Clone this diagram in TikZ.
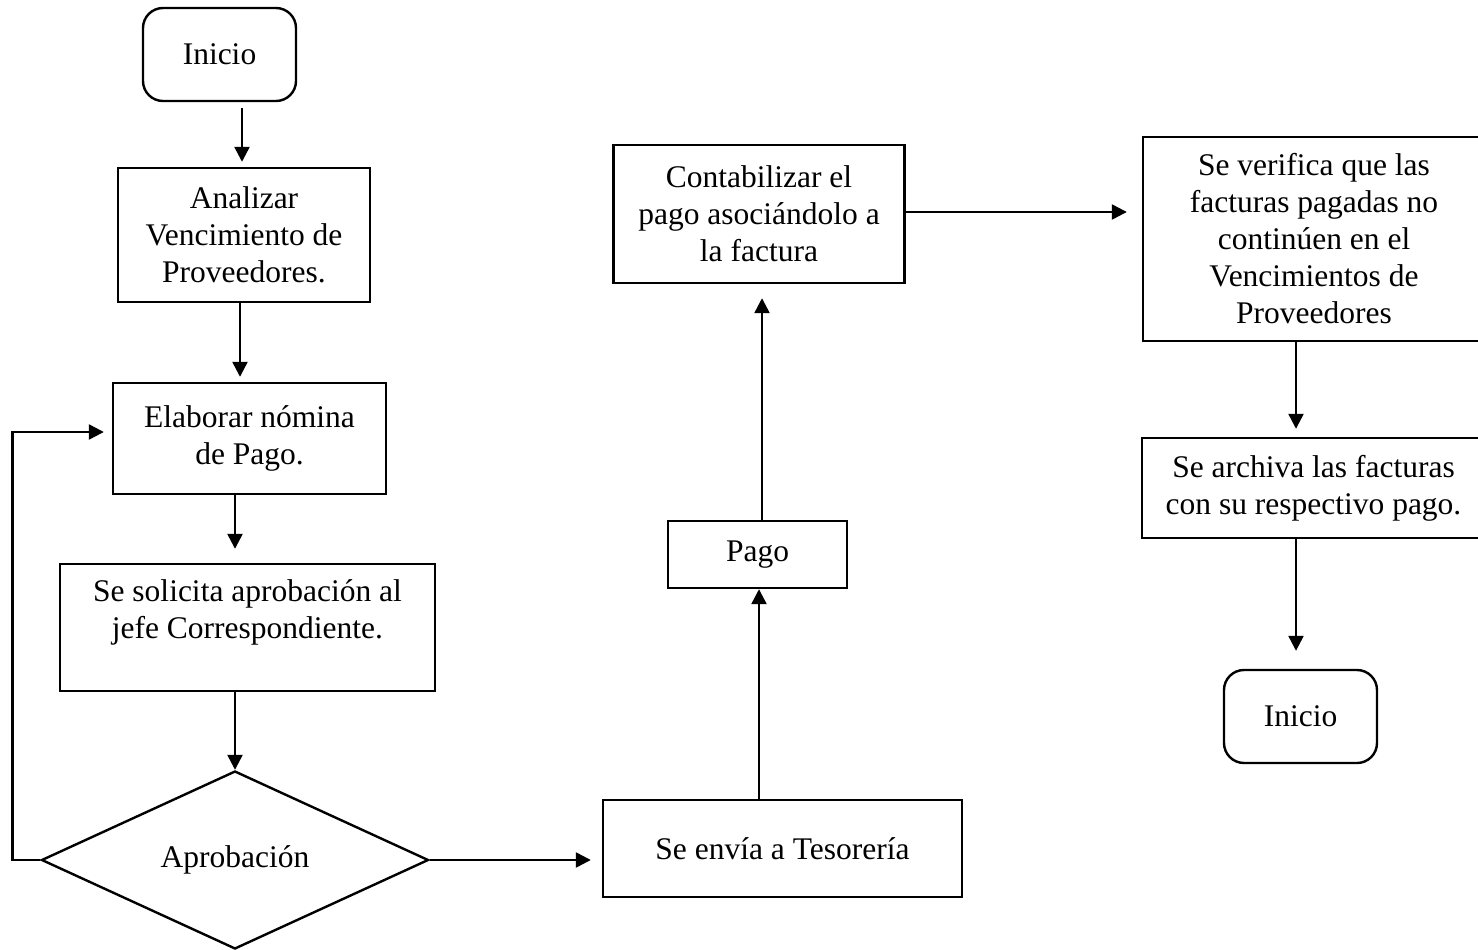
\documentclass[tikz,border=0pt]{standalone}
\usepackage{fontspec}
\setmainfont{Liberation Serif}
\usetikzlibrary{shapes.geometric,arrows.meta}

\begin{document}
\begin{tikzpicture}[x=1pt, y=-1pt, line width=2.4pt, font=\fontsize{31.5}{37}\selectfont, caja/.style={rectangle, draw=black, line width=2.4pt, inner sep=0pt, align=center, minimum width=#1}, caja/.default=250pt, inicio/.style={caja=153pt, minimum height=93pt, rounded corners=20pt}, decision/.style={diamond, draw=black, line width=2.4pt, inner sep=0pt, aspect=2.2, minimum width=387pt, minimum height=178pt}, flecha/.style={-{Triangle[length=15pt,width=15pt]}, line width=2.4pt}]

\useasboundingbox (0,0) rectangle (1478,950);

\node [inicio] (INI) at (219.5,54.5) {Inicio};
\node [caja=252pt, minimum height=134pt] (AVP) at (244,235) {Analizar\\Vencimiento de\\Proveedores.};
\node [caja=273pt, minimum height=111pt] (ENP) at (249.5,438.5) {Elaborar nómina\\de Pago.};
\node [caja=375pt, minimum height=127pt] (SAJ) at (247.5,627.5) {Se solicita aprobación al\\jefe Correspondiente.\\\mbox{}};
\node [decision] (APR) at (235,860) {Aprobación};
\node [caja=359pt, minimum height=97pt] (TES) at (782.5,848.5) {Se envía a Tesorería};
\node [caja=179pt, minimum height=67pt] (PAG) at (757.5,554.5) {Pago};
\node [caja=291pt, minimum height=138pt] (CON) at (759,214) {Contabilizar el\\pago asociándolo a\\la factura};
\node [caja=342pt, minimum height=204pt] (SVF) at (1314,239) {Se verifica que las\\facturas pagadas no\\continúen en el\\Vencimientos de\\Proveedores};
\node [caja=343pt, minimum height=100pt] (SAF) at (1313.5,488) {Se archiva las facturas\\con su respectivo pago.};
\node [inicio] (FIN) at (1300.5,716.5) {Inicio};

\draw [flecha, shorten <=6pt, shorten >=5pt] ([xshift=22.5pt]INI.south) -- ([xshift=-2pt]AVP.north);
\draw [flecha, shorten >=5pt] ([xshift=-4pt]AVP.south) -- ([xshift=-9.5pt]ENP.north);
\draw [flecha, shorten >=14pt] ([xshift=-14.5pt]ENP.south) -- ([xshift=-12.5pt]SAJ.north);
\draw [flecha] ([xshift=-12.5pt]SAJ.south) -- (APR.north);
\draw [flecha, shorten >=8pt] (APR.west) -- ++(-28,0) |- ([yshift=6.5pt]ENP.west);
\draw [flecha, shorten >=11pt] (APR.east) -- (APR.east -| TES.west);
\draw [flecha] ([xshift=-23.5pt]TES.north) -- ([xshift=1.5pt]PAG.south);
\draw [flecha, shorten >=14pt] ([xshift=4.5pt]PAG.north) -- ([xshift=3pt]CON.south);
\draw [flecha, shorten >=15pt] ([yshift=2pt]CON.east) -- ([yshift=2pt]CON.east -| SVF.west);
\draw [flecha, shorten >=8pt] ([xshift=-18pt]SVF.south) -- ([xshift=-17.5pt]SAF.north);
\draw [flecha, shorten >=18pt] ([xshift=-17.5pt]SAF.south) -- ([xshift=-4.5pt]FIN.north);

\end{tikzpicture}
\end{document}
